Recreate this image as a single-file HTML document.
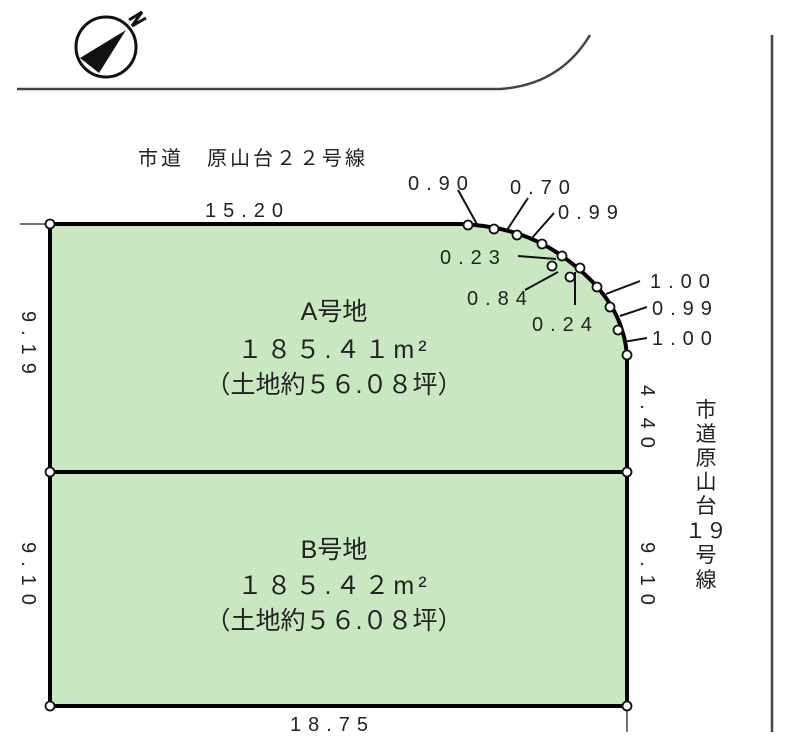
<!DOCTYPE html>
<html><head><meta charset="utf-8"><style>
html,body{margin:0;padding:0;background:#fff;}
svg{display:block;}
text{font-family:"Liberation Sans","Noto Sans CJK JP",sans-serif;fill:#222;}
</style></head><body>
<svg width="800" height="750" viewBox="0 0 800 750" xmlns="http://www.w3.org/2000/svg">
<circle cx="106" cy="47" r="30" fill="#fff" stroke="#111" stroke-width="3"/>
<polygon points="80,58 126,30 99,73" fill="#111"/>
<path d="M129,20 L142,12 L132,26 L146,18" fill="none" stroke="#111" stroke-width="3"/>
<path d="M17,89 L500,89 Q560,85 590,35" fill="none" stroke="#444" stroke-width="2.5"/>
<line x1="772" y1="35" x2="772" y2="732" stroke="#444" stroke-width="2.5"/>
<line x1="20" y1="224" x2="50" y2="224" stroke="#444" stroke-width="1.5"/>
<line x1="627" y1="706" x2="627" y2="732" stroke="#444" stroke-width="1.5"/>
<path d="M50,224 L460,224 Q520,226 562,256 Q610,290 622,330 Q627,345 627,360 L627,706 L50,706 Z" fill="#c9e8c1" stroke="#000" stroke-width="4"/>
<line x1="50" y1="472" x2="627" y2="472" stroke="#000" stroke-width="4"/>
<g stroke="#111" stroke-width="2">
<line x1="458" y1="190" x2="478" y2="226"/>
<line x1="528" y1="198" x2="507" y2="230"/>
<line x1="554" y1="213" x2="532" y2="238"/>
<line x1="518" y1="256" x2="556" y2="259"/>
<line x1="525" y1="290" x2="558" y2="272"/>
<line x1="575" y1="272" x2="575" y2="305"/>
<line x1="640" y1="281" x2="606" y2="294"/>
<line x1="647" y1="307" x2="620" y2="316"/>
<line x1="647" y1="338" x2="623" y2="342"/>
</g>
<g fill="#fff" stroke="#111" stroke-width="1.8">
<circle cx="50" cy="224" r="4.5"/><circle cx="50" cy="472" r="4.5"/><circle cx="50" cy="706" r="4.5"/>
<circle cx="627" cy="472" r="4.5"/><circle cx="627" cy="706" r="4.5"/>
<circle cx="468" cy="225" r="4.5"/><circle cx="494" cy="229" r="4.5"/><circle cx="517" cy="235" r="4.5"/>
<circle cx="542" cy="244" r="4.5"/><circle cx="562" cy="256" r="4.5"/><circle cx="552" cy="266" r="4.5"/>
<circle cx="570" cy="277" r="4.5"/><circle cx="580" cy="268" r="4.5"/><circle cx="597" cy="287" r="4.5"/>
<circle cx="610" cy="307" r="4.5"/><circle cx="618" cy="330" r="4.5"/><circle cx="627" cy="355" r="4.5"/>
</g>
<g font-size="20" letter-spacing="7">
<text x="408" y="190">0.90</text>
<text x="510" y="194">0.70</text>
<text x="558" y="219">0.99</text>
<text x="440" y="264">0.23</text>
<text x="467" y="305">0.84</text>
<text x="532" y="331">0.24</text>
<text x="650" y="288">1.00</text>
<text x="652" y="315">0.99</text>
<text x="652" y="345">1.00</text>
<text x="205" y="217">15.20</text>
<text x="290" y="731">18.75</text>
</g>
<text x="138" y="165" font-size="20" letter-spacing="3">市道　原山台２２号線</text>
<g font-size="20" letter-spacing="8">
<text transform="translate(22,311) rotate(90)">9.19</text>
<text transform="translate(22,542) rotate(90)">9.10</text>
<text transform="translate(641,385) rotate(90)">4.40</text>
<text transform="translate(641,542) rotate(90)">9.10</text>
</g>
<g font-size="21" text-anchor="middle">
<text x="706" y="417">市</text><text x="706" y="441">道</text><text x="706" y="465">原</text>
<text x="706" y="489">山</text><text x="706" y="513">台</text><text x="706" y="538">１９</text>
<text x="706" y="562">号</text><text x="706" y="587">線</text>
</g>
<g font-size="25" text-anchor="middle">
<text x="334" y="320">A号地</text>
<text x="334" y="358" letter-spacing="4">１８５.４１m²</text>
<text x="334" y="393">（土地約５６.０８坪）</text>
<text x="334" y="558">B号地</text>
<text x="334" y="594" letter-spacing="4">１８５.４２m²</text>
<text x="334" y="629">（土地約５６.０８坪）</text>
</g>
</svg>
</body></html>
